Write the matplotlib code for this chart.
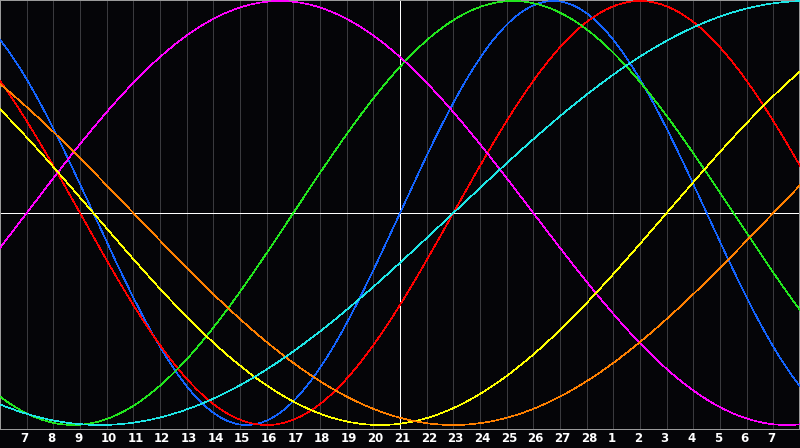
import numpy as np
import matplotlib
matplotlib.use("Agg")
import matplotlib.pyplot as plt

# ---- data ----
day_labels = ["7", "8", "9", "10", "11", "12", "13", "14", "15", "16", "17", "18",
              "19", "20", "21", "22", "23", "24", "25", "26", "27", "28",
              "1", "2", "3", "4", "5", "6", "7"]
today_index = 15            # position of "21" (the white vertical line)
cycle_names = ["Physical", "Emotional", "Intellectual", "Intuitive",
               "Aesthetic", "Awareness", "Spiritual"]
cycle_periods = [23, 28, 33, 38, 43, 48, 53]
# day of each cycle on "today" (read from zero crossings)
cycle_day_today = [0, 26, 4, 14, 33, 34, 51]
cycle_colors = ["#1464ff", "#ff0000", "#22e61e", "#ff00ff",
                "#ffff00", "#ff8000", "#1ee6e6"]

W, H = 800, 448
BG = "#050508"
fig = plt.figure(figsize=(W / 100, H / 100), dpi=100, facecolor=BG)
bottom_px = 428.5
ax = fig.add_axes([0, (H - bottom_px) / H, 1, bottom_px / H])
ax.set_facecolor(BG)

n_days = len(day_labels) + 1
ax.set_xlim(0, n_days)
# pixel = 213 - 212 * v
ax.set_ylim((213 - bottom_px) / 212, 213 / 212)

px = 0.45
for k in range(1, n_days):
    if k == today_index:
        continue
    ax.axvline(k, color="#3a3a3e", lw=px, antialiased=False, zorder=1)
ax.axhline(0, color="#ffffff", lw=px, antialiased=False, zorder=2)
ax.axvline(today_index, color="#ffffff", lw=px, antialiased=False, zorder=2)

t = np.linspace(0, n_days, 1601)
for name, P, d0, c in zip(cycle_names, cycle_periods, cycle_day_today, cycle_colors):
    v = np.sin(2 * np.pi * ((t - today_index) + d0) / P)
    ax.plot(t, v, color=c, lw=px, antialiased=False, zorder=3, label=name)

for s in ax.spines.values():
    s.set_color("#9a9a9a")
    s.set_linewidth(1.44)
ax.spines["bottom"].set_linewidth(0.72)
ax.set_xticks([])
ax.set_yticks([])

trans = ax.get_xaxis_transform()
for k, lab in enumerate(day_labels, start=1):
    ax.text(k - 6 / 26.667, -9.5 / bottom_px, lab, transform=trans,
            ha="left", va="center", color="white", fontsize=8.5,
            fontweight="bold", family="DejaVu Sans", clip_on=False)

fig.savefig("out.png", dpi=100, facecolor=BG)
